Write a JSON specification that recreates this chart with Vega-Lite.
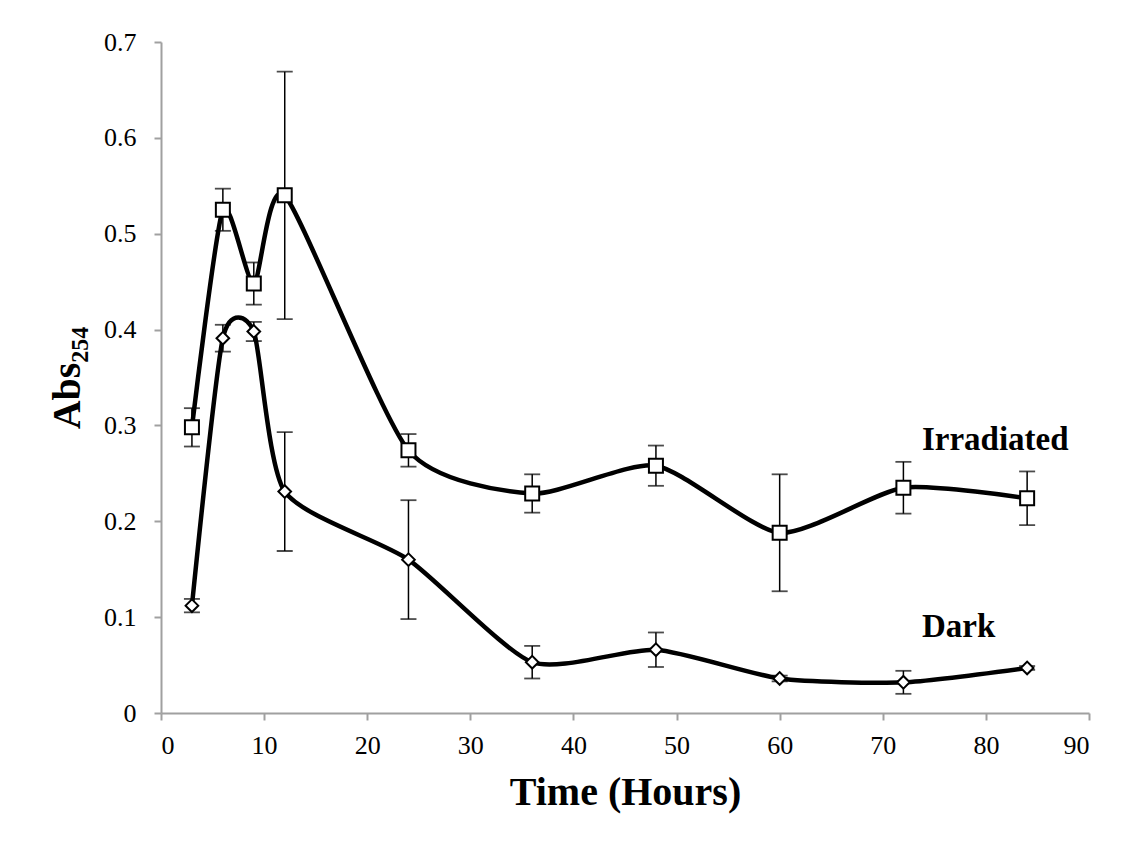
{
  "$schema": "https://vega.github.io/schema/vega-lite/v6.json",
  "autosize": "none",
  "width": 928,
  "height": 671,
  "padding": {"left": 161, "top": 42, "right": 45, "bottom": 138},
  "background": "white",
  "datasets": {
    "series": [
      {"series": "Irradiated", "t": 3, "y": 0.298, "err": 0.020},
      {"series": "Irradiated", "t": 6, "y": 0.525, "err": 0.022},
      {"series": "Irradiated", "t": 9, "y": 0.448, "err": 0.022},
      {"series": "Irradiated", "t": 12, "y": 0.540, "err": 0.129},
      {"series": "Irradiated", "t": 24, "y": 0.274, "err": 0.017},
      {"series": "Irradiated", "t": 36, "y": 0.229, "err": 0.020},
      {"series": "Irradiated", "t": 48, "y": 0.258, "err": 0.021},
      {"series": "Irradiated", "t": 60, "y": 0.188, "err": 0.061},
      {"series": "Irradiated", "t": 72, "y": 0.235, "err": 0.027},
      {"series": "Irradiated", "t": 84, "y": 0.224, "err": 0.028},
      {"series": "Dark", "t": 3, "y": 0.112, "err": 0.007},
      {"series": "Dark", "t": 6, "y": 0.391, "err": 0.014},
      {"series": "Dark", "t": 9, "y": 0.398, "err": 0.010},
      {"series": "Dark", "t": 12, "y": 0.231, "err": 0.062},
      {"series": "Dark", "t": 24, "y": 0.160, "err": 0.062},
      {"series": "Dark", "t": 36, "y": 0.053, "err": 0.017},
      {"series": "Dark", "t": 48, "y": 0.066, "err": 0.018},
      {"series": "Dark", "t": 60, "y": 0.036, "err": 0.003},
      {"series": "Dark", "t": 72, "y": 0.032, "err": 0.012},
      {"series": "Dark", "t": 84, "y": 0.047, "err": 0.002}
    ],
    "labels": [
      {"label": "Irradiated", "t": 73.8, "y": 0.2744},
      {"label": "Dark", "t": 73.8, "y": 0.0793}
    ]
  },
  "data": {"name": "series"},
  "encoding": {
    "x": {
      "field": "t", "type": "quantitative",
      "scale": {"domain": [0, 90], "nice": false},
      "axis": {"title": "Time (Hours)", "values": [0, 10, 20, 30, 40, 50, 60, 70, 80, 90], "titlePadding": 14, "labelPadding": 12}
    },
    "y": {
      "field": "y", "type": "quantitative",
      "scale": {"domain": [0, 0.7], "nice": false},
      "axis": {"title": "Abs₂₅₄", "values": [0, 0.1, 0.2, 0.3, 0.4, 0.5, 0.6, 0.7],
               "labelExpr": "datum.value == 0 ? '0' : format(datum.value, '.1f')",
               "labelPadding": 18, "titlePadding": 16}
    }
  },
  "layer": [
    {
      "mark": {"type": "line", "interpolate": "cardinal", "tension": 0.35, "color": "black", "strokeWidth": 4.5},
      "encoding": {"detail": {"field": "series"}}
    },
    {
      "mark": {"type": "errorbar", "color": "black", "thickness": 1.5, "ticks": {"size": 16, "thickness": 1.8, "color": "black"}},
      "encoding": {
        "yError": {"field": "err"},
        "detail": {"field": "series"}
      }
    },
    {
      "transform": [{"filter": "datum.series == 'Irradiated'"}],
      "mark": {"type": "point", "shape": "square", "filled": true, "fill": "white", "stroke": "black", "strokeWidth": 2, "size": 196, "opacity": 1}
    },
    {
      "transform": [{"filter": "datum.series == 'Dark'"}],
      "mark": {"type": "point", "shape": "diamond", "filled": true, "fill": "white", "stroke": "black", "strokeWidth": 2, "size": 160, "opacity": 1}
    },
    {
      "data": {"name": "labels"},
      "mark": {"type": "text", "align": "left", "baseline": "alphabetic", "font": "Liberation Serif", "fontWeight": "bold", "fontSize": 33, "color": "black"},
      "encoding": {"text": {"field": "label"}}
    }
  ],
  "config": {
    "view": {"stroke": null},
    "axis": {
      "grid": false,
      "domainColor": "#a0a0a0",
      "domainWidth": 2,
      "tickColor": "#a0a0a0",
      "tickWidth": 2,
      "tickSize": 7,
      "labelFont": "Liberation Serif",
      "labelFontSize": 26,
      "labelColor": "black",
      "titleFont": "Liberation Serif",
      "titleFontSize": 40,
      "titleFontWeight": "bold",
      "titleColor": "black"
    }
  }
}
